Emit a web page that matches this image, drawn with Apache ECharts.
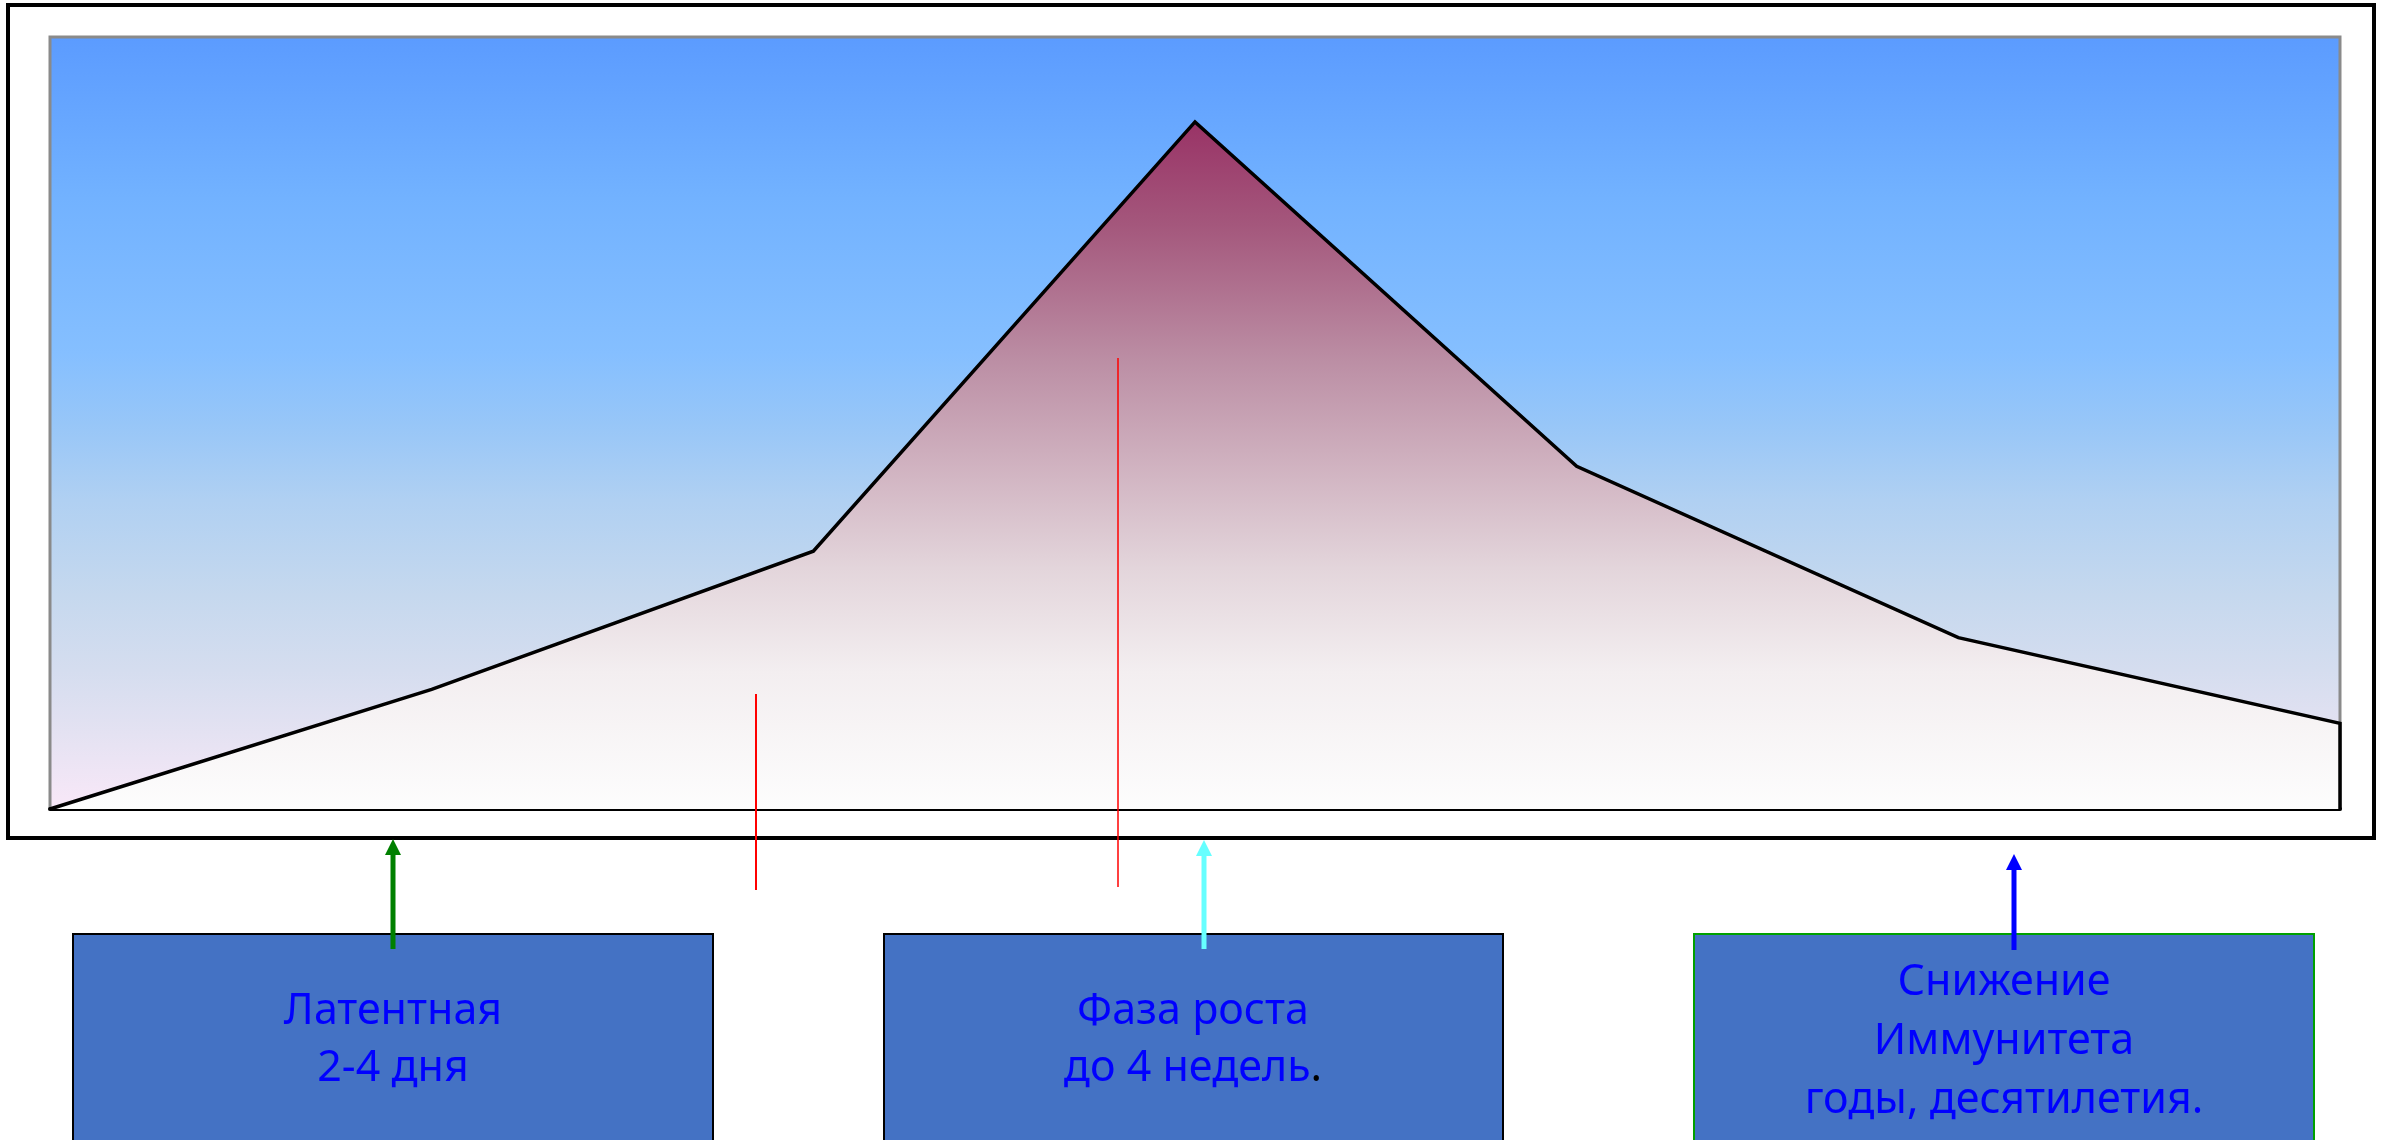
<!DOCTYPE html>
<html>
<head>
<meta charset="utf-8">
<script src="https://cdn.jsdelivr.net/npm/echarts@6/dist/echarts.min.js"></script>
<style>
  html, body { margin: 0; padding: 0; background: #ffffff; }
  #chart { width: 2389px; height: 1140px; }
</style>
</head>
<body>
<div id="chart"></div>
<script>
// Curve of the disease course: stage positions along x and relative level
const stageX = [0, 1, 2, 3, 4, 5, 6, 6];
const stageLevel = [0, 15.5, 33.4, 89, 44.4, 22.2, 11.1, 0];

// Phase captions shown in the boxes under the chart
const phaseLines = [
  ['Латентная', '2-4 дня'],
  ['Фаза роста', 'до 4 недель'],
  ['Снижение', 'Иммунитета', 'годы, десятилетия.']
];

const chart = echarts.init(document.getElementById('chart'));

const FONT = '43px "Noto Sans", sans-serif';
const TEXT_BLUE = '#0000ff';

function arrow(x, tipY, bottomY, color) {
  return [
    {
      type: 'line', z: 20,
      shape: { x1: x, y1: bottomY, x2: x, y2: tipY + 12 },
      style: { stroke: color, lineWidth: 5 }
    },
    {
      type: 'polygon', z: 20,
      shape: { points: [[x, tipY], [x - 8, tipY + 16], [x + 8, tipY + 16]] },
      style: { fill: color }
    }
  ];
}

function box(x, w, stroke) {
  return {
    type: 'rect', z: 10,
    shape: { x: x, y: 934, width: w, height: 260 },
    style: { fill: '#4472c4', stroke: stroke, lineWidth: 2 }
  };
}

function caption(cx, cy, text, lineHeight, rich) {
  return {
    type: 'text', z: 15,
    x: cx, y: cy,
    style: {
      text: text,
      font: FONT,
      fill: TEXT_BLUE,
      align: 'center',
      verticalAlign: 'middle',
      lineHeight: lineHeight,
      rich: rich || {}
    }
  };
}

const option = {
  animation: false,
  grid: {
    left: 50, right: 49, top: 37, bottom: 331,
    show: true,
    borderColor: '#8a8a8a',
    borderWidth: 3,
    backgroundColor: new echarts.graphic.LinearGradient(0, 0, 0, 1, [
      { offset: 0, color: '#5b9bff' },
      { offset: 0.21, color: '#72b2ff' },
      { offset: 0.41, color: '#85bfff' },
      { offset: 0.5, color: '#97c6f8' },
      { offset: 0.6, color: '#b0d0f2' },
      { offset: 0.72, color: '#c5d8ee' },
      { offset: 0.82, color: '#d5ddef' },
      { offset: 0.9, color: '#e4e2f2' },
      { offset: 1, color: '#f9e8f8' }
    ])
  },
  xAxis: {
    type: 'value', min: 0, max: 6,
    axisLine: { show: true, lineStyle: { color: '#000', width: 4 } },
    axisTick: { show: false },
    axisLabel: { show: false },
    splitLine: { show: false }
  },
  yAxis: {
    type: 'value', min: 0, max: 100,
    show: false
  },
  series: [{
    type: 'line',
    data: stageX.map((x, i) => [x, stageLevel[i]]),
    symbol: 'none',
    lineStyle: { color: '#000', width: 3.5, join: 'miter' },
    areaStyle: {
      opacity: 1,
      color: new echarts.graphic.LinearGradient(0, 0, 0, 1, [
        { offset: 0, color: '#993366' },
        { offset: 0.15, color: '#a4577c' },
        { offset: 0.35, color: '#bc8fa5' },
        { offset: 0.5, color: '#d0b2c0' },
        { offset: 0.65, color: '#e3d5db' },
        { offset: 0.8, color: '#f3eef0' },
        { offset: 1, color: '#fdfdfd' }
      ])
    },
    z: 3
  }],
  graphic: [
    // outer frame around the chart
    {
      type: 'rect', z: 5,
      shape: { x: 8, y: 5, width: 2366, height: 833 },
      style: { fill: 'none', stroke: '#000', lineWidth: 4 }
    },
    // red markers
    {
      type: 'line', z: 20,
      shape: { x1: 756, y1: 694, x2: 756, y2: 890 },
      style: { stroke: '#ff0000', lineWidth: 2 }
    },
    {
      type: 'line', z: 20,
      shape: { x1: 1118, y1: 358, x2: 1118, y2: 887 },
      style: { stroke: '#ff0000', lineWidth: 1.5 }
    },
    box(73, 640, '#000'),
    box(884, 619, '#000'),
    box(1694, 620, '#00a000'),
    caption(393, 1040, phaseLines[0].join('\n'), 57),
    caption(1193, 1040, phaseLines[1][0] + '\n' + phaseLines[1][1] + '{dot|.}', 57, {
      dot: { fill: '#000', font: FONT }
    }),
    caption(2004, 1042, phaseLines[2].join('\n'), 59),
    ...arrow(393, 839, 949, '#008000'),
    ...arrow(1204, 840, 949, '#66ffff'),
    ...arrow(2014, 854, 950, '#0000ff')
  ]
};

chart.setOption(option);
</script>
</body>
</html>
